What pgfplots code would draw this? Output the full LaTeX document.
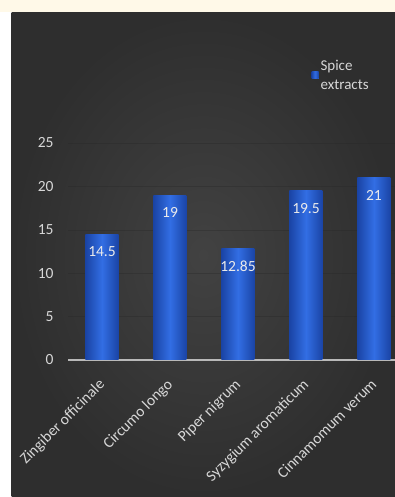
\documentclass[border=0pt]{standalone}
\usepackage{pgfplots}
\pgfplotsset{compat=1.18}
\usepackage{fontspec}
\setmainfont{Carlito}
\definecolor{bgdark}{RGB}{46,46,46}
\definecolor{bglight}{RGB}{66,66,66}
\definecolor{stripyellow}{RGB}{255,249,232}
\definecolor{bardark}{RGB}{26,68,165}
\definecolor{barmid}{RGB}{50,110,228}
\definecolor{txtgray}{RGB}{215,215,215}
\definecolor{axgray}{RGB}{185,185,185}
\begin{document}
\begin{tikzpicture}[x=1pt,y=1pt]
\useasboundingbox (0,0) rectangle (395,497);
\fill[white] (0,0) rectangle (395,497);
\fill[stripyellow] (0,485) rectangle (395,497);
\shade[inner color=bglight, outer color=bgdark] (11.5,0) rectangle (395,484);
\begin{axis}[
  at={(68pt,137pt)}, anchor=south west,
  scale only axis, width=327pt, height=217pt,
  xmin=-0.5, xmax=4.309, ymin=0, ymax=25,
  axis x line*=bottom, axis y line*=left,
  y axis line style={draw=none},
  x axis line style={draw=axgray, line width=1.4pt},
  major tick length=0pt,
  ytick={0,5,10,15,20,25},
  xtick={0,1,2,3,4},
  xticklabels={Zingiber officinale,Circumo longo,Piper nigrum,Syzygium aromaticum,Cinnamomum verum},
  ymajorgrids, grid style={draw=bgdark!85!black, line width=0.4pt, opacity=0.35},
  /pgf/number format/assume math mode=true,
  tick label style={font=\fontsize{15.5}{17}\selectfont, text=txtgray},
  yticklabel style={xshift=-11pt},
  xticklabel style={rotate=45, anchor=north east, xshift=-12pt, yshift=-6pt},
  clip=false,
  legend style={at={(rel axis cs:0.735,1.40)}, anchor=north west, draw=none, fill=none,
    font=\fontsize{15}{19}\selectfont, text=txtgray, nodes={align=left}},
  legend image code/.code={\fill[barmid] (0pt,-3pt) rectangle (7pt,4pt);},
  every node near coord/.append style={anchor=north, yshift=-9pt, text=white!92!black, font=\fontsize{15.5}{17}\selectfont},
  barsty/.style={ybar, bar width=33pt, bar shift=0pt, draw=none, left color=bardark, right color=bardark, middle color=barmid,
    point meta=explicit symbolic, nodes near coords},
]
\addplot[barsty] coordinates {(0,14.5) [14.5]};
\addlegendentry{Spice\\extracts}
\addplot[barsty, forget plot] coordinates {(1,19) [19]};
\addplot[barsty, forget plot] coordinates {(2,12.85) [12.85]};
\addplot[barsty, forget plot] coordinates {(3,19.5) [19.5]};
\addplot[barsty, forget plot] coordinates {(4,21) [21]};
\end{axis}
\end{tikzpicture}
\end{document}
